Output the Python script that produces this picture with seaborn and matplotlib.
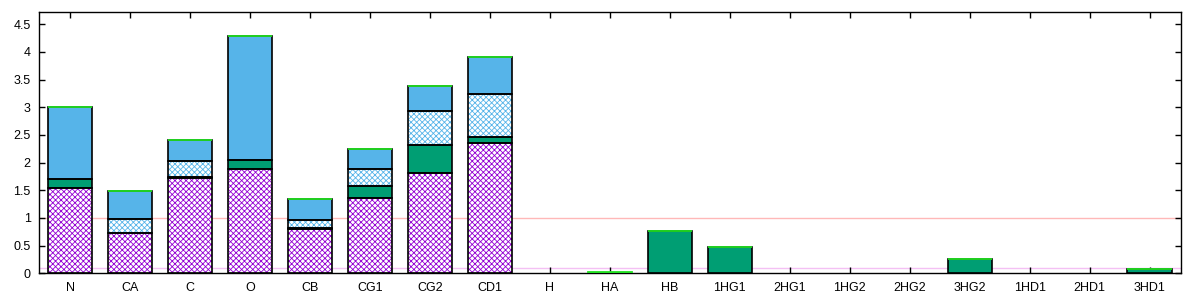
import matplotlib
matplotlib.use("Agg")
import matplotlib.pyplot as plt
import seaborn as sns
import numpy as np

categories = ["N", "CA", "C", "O", "CB", "CG1", "CG2", "CD1", "H", "HA", "HB",
              "1HG1", "2HG1", "1HG2", "2HG2", "3HG2", "1HD1", "2HD1", "3HD1"]
# stacked layers (bottom to top)
layer_purple = [1.54, 0.72, 1.72, 1.88, 0.80, 1.36, 1.81, 2.35, 0, 0, 0, 0, 0, 0, 0, 0, 0, 0, 0]
layer_green  = [0.16, 0.00, 0.02, 0.16, 0.02, 0.21, 0.50, 0.11, 0, 0.01, 0.76, 0.47, 0, 0, 0, 0.26, 0, 0, 0.07]
layer_hatchb = [0.00, 0.26, 0.28, 0.00, 0.14, 0.31, 0.62, 0.78, 0, 0, 0, 0, 0, 0, 0, 0, 0, 0, 0]
layer_blue   = [1.30, 0.50, 0.38, 2.25, 0.38, 0.36, 0.45, 0.67, 0, 0, 0, 0, 0, 0, 0, 0, 0, 0, 0]
layer_lime   = [0.005, 0.005, 0.005, 0.005, 0.005, 0.005, 0.005, 0.005, 0, 0.005, 0.005, 0.005,
                0, 0, 0, 0.005, 0, 0, 0.005]
ref_lines = [1.0, 0.1]

plt.rcParams['font.family'] = ['Liberation Sans', 'DejaVu Sans']
plt.rcParams['hatch.linewidth'] = 0.6

fig = plt.figure(figsize=(12, 3), dpi=100)
ax = fig.add_axes([0.0325, 0.089, 0.9515, 0.871])

ax.axhline(ref_lines[0], color="#FFB8B8", lw=1, zorder=0)
ax.axhline(ref_lines[1], color="#F4C0F4", lw=1, zorder=0)

W = 0.74
layers = [
    (layer_purple, "white", "#9400D3", "xxxxxx"),
    (layer_green, "#009E73", None, None),
    (layer_hatchb, "white", "#56B4E9", "xxxxxx"),
    (layer_blue, "#56B4E9", None, None),
]
n = len(categories)
bottom = np.zeros(n)
for vals, face, hcol, hatch in layers:
    vals = np.array(vals, dtype=float)
    if hatch:
        sns.barplot(x=categories, y=vals, bottom=bottom, color=face, saturation=1,
                    width=W, hatch=hatch, edgecolor=hcol, linewidth=0, ax=ax, zorder=2)
    else:
        sns.barplot(x=categories, y=vals, bottom=bottom, color=face, saturation=1,
                    width=W, linewidth=0, ax=ax, zorder=2)
    # black outline for non-empty segments
    m = vals > 0
    ax.bar(np.arange(n)[m], vals[m], bottom=bottom[m], width=W, fill=False,
           edgecolor="black", linewidth=1.2, zorder=3)
    bottom = bottom + vals

lime = np.array(layer_lime)
sns.barplot(x=categories, y=lime, bottom=bottom, color="#22E022", saturation=1,
            width=W, linewidth=1.3, edgecolor="#22E022", ax=ax, zorder=5)
# hide lime edges for empty bars
for p, v in zip(ax.patches[-n:], lime):
    if v <= 0:
        p.set_visible(False)

ax.set_xlim(-0.52, n - 0.48)
ax.set_ylim(0, 4.72)
ax.set_yticks(np.arange(0, 4.51, 0.5))
ax.set_yticklabels(["0", "0.5", "1", "1.5", "2", "2.5", "3", "3.5", "4", "4.5"])
ax.tick_params(direction="in", top=True, right=True, length=4, width=1,
               labelsize=9, colors="black")
ax.tick_params(axis="x", pad=6)
ax.tick_params(axis="y", pad=6)
for s in ax.spines.values():
    s.set_linewidth(1)
    s.set_color("black")
ax.set_xlabel("")
ax.set_ylabel("")
fig.savefig("out.png", dpi=100)
